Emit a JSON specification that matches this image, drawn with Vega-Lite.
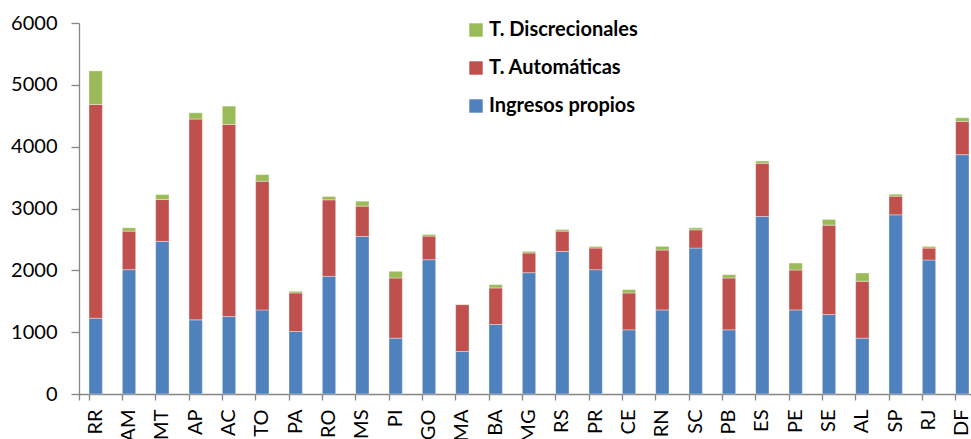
{
  "$schema": "https://vega.github.io/schema/vega-lite/v6.json",
  "autosize": {"type": "none"},
  "padding": {"left": 79, "top": 23, "right": 0, "bottom": 45},
  "width": 892,
  "height": 371,
  "background": "white",
  "config": {
    "view": {"stroke": null},
    "font": "Lato",
    "axis": {
      "labelFont": "Lato",
      "labelFontSize": 20,
      "labelColor": "#000000",
      "domainColor": "#868686",
      "tickColor": "#868686",
      "domainWidth": 1.3,
      "tickWidth": 1.3,
      "grid": false,
      "title": null
    }
  },
  "data": {
    "values": [
      {"estado": "RR", "tipo": "Ingresos propios", "valor": 1226},
      {"estado": "RR", "tipo": "T. Automáticas", "valor": 3457},
      {"estado": "RR", "tipo": "T. Discrecionales", "valor": 543},
      {"estado": "AM", "tipo": "Ingresos propios", "valor": 2011},
      {"estado": "AM", "tipo": "T. Automáticas", "valor": 623},
      {"estado": "AM", "tipo": "T. Discrecionales", "valor": 54},
      {"estado": "MT", "tipo": "Ingresos propios", "valor": 2468},
      {"estado": "MT", "tipo": "T. Automáticas", "valor": 677},
      {"estado": "MT", "tipo": "T. Discrecionales", "valor": 81},
      {"estado": "AP", "tipo": "Ingresos propios", "valor": 1199},
      {"estado": "AP", "tipo": "T. Automáticas", "valor": 3247},
      {"estado": "AP", "tipo": "T. Discrecionales", "valor": 102},
      {"estado": "AC", "tipo": "Ingresos propios", "valor": 1253},
      {"estado": "AC", "tipo": "T. Automáticas", "valor": 3107},
      {"estado": "AC", "tipo": "T. Discrecionales", "valor": 296},
      {"estado": "TO", "tipo": "Ingresos propios", "valor": 1360},
      {"estado": "TO", "tipo": "T. Automáticas", "valor": 2081},
      {"estado": "TO", "tipo": "T. Discrecionales", "valor": 107},
      {"estado": "PA", "tipo": "Ingresos propios", "valor": 1011},
      {"estado": "PA", "tipo": "T. Automáticas", "valor": 623},
      {"estado": "PA", "tipo": "T. Discrecionales", "valor": 27},
      {"estado": "RO", "tipo": "Ingresos propios", "valor": 1903},
      {"estado": "RO", "tipo": "T. Automáticas", "valor": 1237},
      {"estado": "RO", "tipo": "T. Discrecionales", "valor": 54},
      {"estado": "MS", "tipo": "Ingresos propios", "valor": 2548},
      {"estado": "MS", "tipo": "T. Automáticas", "valor": 490},
      {"estado": "MS", "tipo": "T. Discrecionales", "valor": 80},
      {"estado": "PI", "tipo": "Ingresos propios", "valor": 903},
      {"estado": "PI", "tipo": "T. Automáticas", "valor": 973},
      {"estado": "PI", "tipo": "T. Discrecionales", "valor": 108},
      {"estado": "GO", "tipo": "Ingresos propios", "valor": 2172},
      {"estado": "GO", "tipo": "T. Automáticas", "valor": 382},
      {"estado": "GO", "tipo": "T. Discrecionales", "valor": 27},
      {"estado": "MA", "tipo": "Ingresos propios", "valor": 688},
      {"estado": "MA", "tipo": "T. Automáticas", "valor": 758},
      {"estado": "MA", "tipo": "T. Discrecionales", "valor": 5},
      {"estado": "BA", "tipo": "Ingresos propios", "valor": 1124},
      {"estado": "BA", "tipo": "T. Automáticas", "valor": 591},
      {"estado": "BA", "tipo": "T. Discrecionales", "valor": 54},
      {"estado": "MG", "tipo": "Ingresos propios", "valor": 1962},
      {"estado": "MG", "tipo": "T. Automáticas", "valor": 318},
      {"estado": "MG", "tipo": "T. Discrecionales", "valor": 26},
      {"estado": "RS", "tipo": "Ingresos propios", "valor": 2306},
      {"estado": "RS", "tipo": "T. Automáticas", "valor": 328},
      {"estado": "RS", "tipo": "T. Discrecionales", "valor": 27},
      {"estado": "PR", "tipo": "Ingresos propios", "valor": 2011},
      {"estado": "PR", "tipo": "T. Automáticas", "valor": 349},
      {"estado": "PR", "tipo": "T. Discrecionales", "valor": 27},
      {"estado": "CE", "tipo": "Ingresos propios", "valor": 1038},
      {"estado": "CE", "tipo": "T. Automáticas", "valor": 596},
      {"estado": "CE", "tipo": "T. Discrecionales", "valor": 54},
      {"estado": "RN", "tipo": "Ingresos propios", "valor": 1360},
      {"estado": "RN", "tipo": "T. Automáticas", "valor": 968},
      {"estado": "RN", "tipo": "T. Discrecionales", "valor": 59},
      {"estado": "SC", "tipo": "Ingresos propios", "valor": 2360},
      {"estado": "SC", "tipo": "T. Automáticas", "valor": 296},
      {"estado": "SC", "tipo": "T. Discrecionales", "valor": 32},
      {"estado": "PB", "tipo": "Ingresos propios", "valor": 1038},
      {"estado": "PB", "tipo": "T. Automáticas", "valor": 838},
      {"estado": "PB", "tipo": "T. Discrecionales", "valor": 54},
      {"estado": "ES", "tipo": "Ingresos propios", "valor": 2871},
      {"estado": "ES", "tipo": "T. Automáticas", "valor": 860},
      {"estado": "ES", "tipo": "T. Discrecionales", "valor": 38},
      {"estado": "PE", "tipo": "Ingresos propios", "valor": 1360},
      {"estado": "PE", "tipo": "T. Automáticas", "valor": 645},
      {"estado": "PE", "tipo": "T. Discrecionales", "valor": 113},
      {"estado": "SE", "tipo": "Ingresos propios", "valor": 1285},
      {"estado": "SE", "tipo": "T. Automáticas", "valor": 1446},
      {"estado": "SE", "tipo": "T. Discrecionales", "valor": 92},
      {"estado": "AL", "tipo": "Ingresos propios", "valor": 903},
      {"estado": "AL", "tipo": "T. Automáticas", "valor": 920},
      {"estado": "AL", "tipo": "T. Discrecionales", "valor": 134},
      {"estado": "SP", "tipo": "Ingresos propios", "valor": 2898},
      {"estado": "SP", "tipo": "T. Automáticas", "valor": 301},
      {"estado": "SP", "tipo": "T. Discrecionales", "valor": 32},
      {"estado": "RJ", "tipo": "Ingresos propios", "valor": 2167},
      {"estado": "RJ", "tipo": "T. Automáticas", "valor": 193},
      {"estado": "RJ", "tipo": "T. Discrecionales", "valor": 27},
      {"estado": "DF", "tipo": "Ingresos propios", "valor": 3871},
      {"estado": "DF", "tipo": "T. Automáticas", "valor": 538},
      {"estado": "DF", "tipo": "T. Discrecionales", "valor": 59}
    ]
  },
  "mark": {"type": "bar", "stroke": "#ffffff", "strokeWidth": 0.6, "strokeOpacity": 0.6},
  "encoding": {
    "x": {
      "field": "estado",
      "type": "nominal",
      "sort": null,
      "scale": {"range": [0, 900], "paddingInner": 0.6, "paddingOuter": 0.3},
      "axis": {
        "labelAngle": -90,
        "tickSize": 6,
        "labelPadding": 9,
        "bandPosition": 0,
        "tickExtra": true,
        "labelBaseline": "middle",
        "labelAlign": "right"
      }
    },
    "y": {
      "field": "valor",
      "type": "quantitative",
      "stack": "zero",
      "scale": {"domain": [0, 6000], "nice": false},
      "axis": {"values": [0, 1000, 2000, 3000, 4000, 5000, 6000], "tickSize": 8, "labelPadding": 14, "format": "d"}
    },
    "color": {
      "field": "tipo",
      "type": "nominal",
      "scale": {
        "domain": ["T. Discrecionales", "T. Automáticas", "Ingresos propios"],
        "range": ["#9BBB59", "#C0504D", "#4F81BD"]
      },
      "legend": {
        "title": null,
        "orient": "none",
        "legendX": 387,
        "legendY": -3,
        "symbolType": "square",
        "symbolSize": 180,
        "symbolStrokeWidth": 0,
        "symbolOpacity": 1,
        "labelFont": "Lato",
        "labelFontSize": 20,
        "labelFontWeight": "bold",
        "labelColor": "#000000",
        "labelOffset": 3,
        "rowPadding": 18,
        "labelLimit": 300
      }
    },
    "order": {"field": "tipo", "sort": "ascending"}
  }
}
